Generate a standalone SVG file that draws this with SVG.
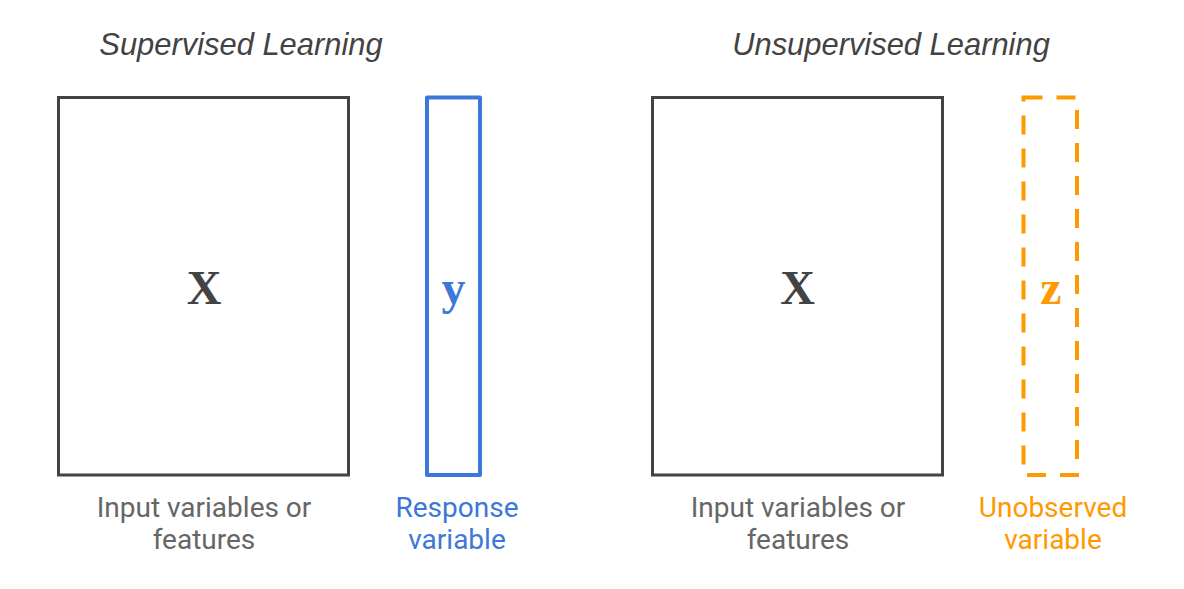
<svg xmlns="http://www.w3.org/2000/svg" width="1184" height="589" viewBox="0 0 1184 589">
  <style>
    .title { font-family: "Liberation Sans", Arial, sans-serif; font-style: italic; font-size: 30.9px; fill: #434343; text-anchor: middle; }
    .matrix { fill: none; stroke: #434343; stroke-width: 3; }
    .sym { font-family: "Liberation Serif", "Times New Roman", serif; font-weight: bold; font-size: 48px; text-anchor: middle; }
    .label { font-family: Roboto, "Liberation Sans", Arial, sans-serif; font-size: 28px; text-anchor: middle; }
    .gray { fill: #666666; }
    .blue { fill: #3c78d8; }
    .orange { fill: #ff9900; }
  </style>
  <rect width="1184" height="589" fill="#ffffff"/>

  <text class="title" x="241" y="55">Supervised Learning</text>
  <text class="title" x="891" y="55">Unsupervised Learning</text>

  <g id="x-supervised">
    <rect class="matrix" x="58.5" y="97.5" width="290" height="377.5"/>
    <text class="sym" x="204" y="304" fill="#434343">X</text>
    <text class="label gray" x="204" y="517">Input variables or</text>
    <text class="label gray" x="204" y="549">features</text>
  </g>

  <g id="y-response">
    <rect x="427" y="97.5" width="53" height="377.5" fill="none" stroke="#3c78d8" stroke-width="4" stroke-linejoin="round"/>
    <text class="sym blue" x="453.5" y="304">y</text>
    <text class="label blue" x="457" y="517">Response</text>
    <text class="label blue" x="457" y="549">variable</text>
  </g>

  <g id="x-unsupervised">
    <rect class="matrix" x="652.5" y="97.5" width="290" height="377.5"/>
    <text class="sym" x="797.5" y="304" fill="#434343">X</text>
    <text class="label gray" x="798" y="517">Input variables or</text>
    <text class="label gray" x="798" y="549">features</text>
  </g>

  <g id="z-unobserved">
    <rect x="1023.5" y="97.5" width="53.5" height="377.5" fill="none" stroke="#ff9900" stroke-width="4" stroke-dasharray="19 14"/>
    <text class="sym orange" x="1051" y="304">z</text>
    <text class="label orange" x="1053" y="517">Unobserved</text>
    <text class="label orange" x="1053" y="549">variable</text>
  </g>

  <g id="connectors"/>
</svg>
